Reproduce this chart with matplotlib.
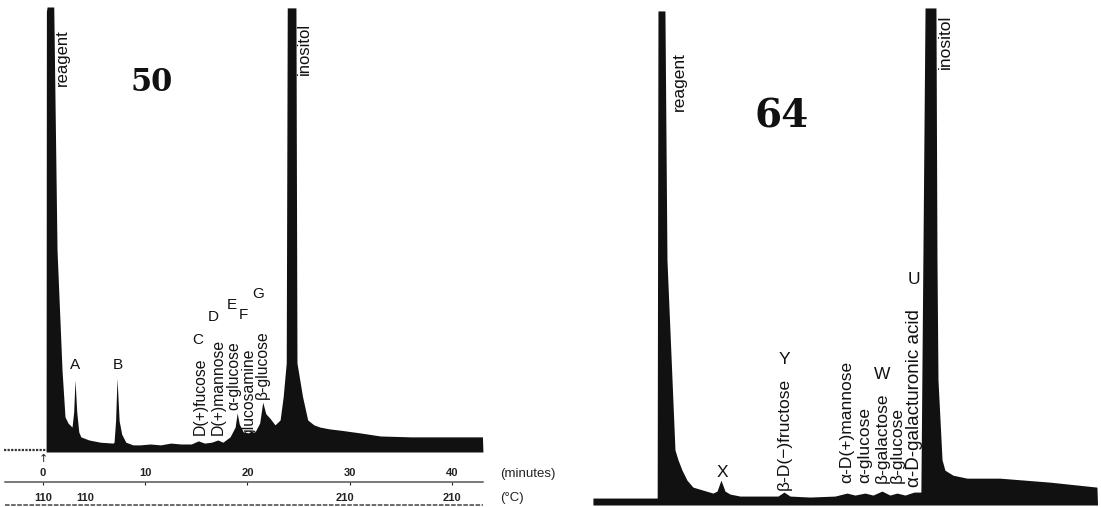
import matplotlib
matplotlib.use("Agg")
import matplotlib.pyplot as plt

plt.rcParams["font.family"] = ["Liberation Sans", "DejaVu Sans"]

# chromatogram 50 : retention time (minutes) vs recorder response (% full scale)
t_50 = [0.30, 0.33, 0.40, 1.05, 1.37, 1.86, 2.15, 2.45, 2.84, 3.00,
        3.13, 3.30, 3.50, 3.70, 4.50, 5.60, 6.85, 6.95, 7.10, 7.24,
        7.45, 7.70, 8.10, 8.80, 9.50, 10.5, 11.5, 12.5, 13.5, 14.5,
        15.2, 15.8, 16.5, 17.1, 17.6, 18.3, 18.8, 19.0, 19.2, 19.6,
        20.1, 20.4, 20.7, 21.2, 21.5, 21.8, 22.2, 22.7, 23.2, 23.5,
        23.8, 23.9, 24.75, 24.85, 25.4, 25.9, 26.5, 27.1, 28.0, 29.1,
        31.0, 33.0, 36.0, 40.0, 43.0, 43.05]
y_50 = [0, 99.0, 100, 100, 45.4, 18.4, 7.9, 6.5, 5.6, 9.0,
        16.2, 9.0, 4.5, 3.4, 2.7, 2.2, 2.0, 2.2, 7.0, 16.6,
        7.0, 4.0, 2.2, 1.6, 1.6, 1.8, 1.6, 2.0, 1.8, 1.8,
        2.5, 2.0, 2.2, 2.7, 2.2, 3.4, 5.6, 8.8, 6.3, 4.5,
        4.3, 4.7, 4.3, 6.5, 11.2, 8.6, 7.6, 6.1, 7.2, 12.4,
        20.0, 99.8, 99.8, 20.0, 12.4, 7.2, 6.1, 5.6, 5.2, 4.9,
        4.3, 3.6, 3.4, 3.4, 3.4, 0]

# chromatogram 64
t_64 = [-5.16, 0.55, 0.62, 1.24, 1.42, 1.87, 2.13, 2.40, 2.76, 3.20,
        3.73, 4.62, 5.51, 5.87, 6.22, 6.58, 7.02, 7.91, 10.31, 11.29,
        11.82, 12.36, 14.13, 16.36, 17.42, 18.13, 19.02, 19.73, 20.53, 21.24,
        21.87, 22.58, 23.38, 23.99, 24.36, 25.33, 25.42, 25.51, 25.87, 26.13,
        26.84, 28.09, 31.02, 35.47, 39.64, 39.69]
y_64 = [1.4, 1.4, 99.4, 99.4, 49.3, 25.2, 11.1, 9.1, 7.0, 5.0,
        3.6, 3.0, 2.4, 2.8, 5.0, 2.8, 2.2, 1.8, 1.8, 1.8,
        2.6, 1.8, 1.6, 1.8, 2.4, 2.0, 2.4, 2.0, 2.8, 2.0,
        2.4, 2.0, 2.6, 2.6, 100, 100, 49.3, 25.2, 9.1, 7.0,
        6.0, 5.4, 5.4, 4.6, 3.6, 0]

# scales under chromatogram 50
minute_ticks = [0, 10, 20, 30, 40]
temp_times = [0, 4.1, 29.5, 40]
temp_labels = ["110", "110", "210", "210"]

# peak labels
names_50 = ["D(+)fucose", "D(+)mannose", "α-glucose", "glucosamine", "β-glucose"]
names_50_t = [15.36, 17.13, 18.70, 20.15, 21.43]
names_50_y = [3.8, 3.8, 9.4, 3.4, 11.9]
letters_50 = ["A", "B", "C", "D", "E", "F", "G"]
letters_50_t = [3.13, 7.34, 15.17, 16.63, 18.49, 19.57, 21.04]
letters_50_y = [19.6, 19.6, 25.2, 30.3, 33.0, 30.8, 35.5]

names_64 = ["β-D(−)fructose", "α-D(+)mannose", "α-glucose", "β-galactose",
            "β-glucose", "α-D-galacturonic acid"]
names_64_t = [11.82, 17.42, 19.02, 20.53, 21.87, 23.38]
names_64_y = [3.0, 4.4, 4.4, 4.4, 4.4, 3.6]
letters_64 = ["X", "Y", "W", "U"]
letters_64_t = [6.31, 11.82, 20.53, 23.38]
letters_64_y = [6.6, 29.2, 26.2, 45.3]

ink = "#111111"

fig = plt.figure(figsize=(11.01, 5.07), dpi=100)
ax1 = fig.add_axes([0, 0, 560 / 1101, 1])
ax2 = fig.add_axes([580 / 1101, 0, 521 / 1101, 1])

# ---- left chromatogram (50)
ax1.fill_between(t_50, y_50, 0, color=ink, lw=0)
ax1.plot([-3.8, 0.30], [0.4, 0.4], color="#333333", lw=1.6, ls=(0, (1, 0.6)))
ax1.set_xlim(-4.21, 50.59)
ax1.set_ylim(-12.36, 101.57)
for s in ["left", "right", "bottom"]:
    ax1.spines[s].set_visible(False)
ax1.spines["top"].set_position(("data", -6.74))
ax1.spines["top"].set_bounds(-3.7, 43.1)
ax1.spines["top"].set_color("#555555")
ax1.spines["top"].set_linewidth(1.1)
ax1.xaxis.set_ticks_position("top")
ax1.set_xticks(minute_ticks)
ax1.tick_params(axis="x", direction="in", length=2, pad=3, labelsize=8, colors="#222222")
plt.setp(ax1.get_xticklabels(), fontweight="bold")
ax1.set_yticks([])
ax1.text(44.7, -4.9, "(minutes)", fontsize=9.5, va="center", ha="left", color="#222222")
for tt, lab in zip(temp_times, temp_labels):
    ax1.text(tt, -10.3, lab, fontsize=8, fontweight="bold", ha="center", va="center", color="#222222")
ax1.text(44.7, -10.3, "(°C)", fontsize=9.5, va="center", ha="left", color="#222222")
ax1.plot([-3.7, 43.1], [-11.9, -11.9], color="#444444", lw=1.1, ls=(0, (3, 1)))
ax1.text(0, -1.6, "↑", fontsize=8, ha="center", va="center", color="#222222",
         family=["DejaVu Sans"])

ax1.text(1.9, 95.1, "reagent", rotation=90, fontsize=12, ha="center", va="top", color=ink)
ax1.text(25.6, 96.4, "inositol", rotation=90, fontsize=12, ha="center", va="top", color=ink)
ax1.text(10.67, 83.1, "50", fontsize=22, fontweight="bold", family="DejaVu Serif",
         ha="center", va="center", color=ink)
for name, tt, yy in zip(names_50, names_50_t, names_50_y):
    ax1.text(tt, yy, name, rotation=90, fontsize=11.3, ha="center", va="bottom", color=ink)
for name, tt, yy in zip(letters_50, letters_50_t, letters_50_y):
    ax1.text(tt, yy, name, fontsize=11, ha="center", va="center", color=ink)

# ---- right chromatogram (64)
ax2.fill_between(t_64, y_64, 0, color=ink, lw=0)
ax2.set_xlim(-6.31, 40.0)
ax2.set_ylim(-0.4, 101.6)
ax2.axis("off")
ax2.text(2.49, 91.1, "reagent", rotation=90, fontsize=12.5, ha="center", va="top", color=ink)
ax2.text(26.2, 98.6, "inositol", rotation=90, fontsize=12.5, ha="center", va="top", color=ink)
ax2.text(11.64, 78.1, "64", fontsize=28, fontweight="bold", family="DejaVu Serif",
         ha="center", va="center", color=ink)
for name, tt, yy in zip(names_64, names_64_t, names_64_y):
    size = 13.6 if "acid" in name else 12.5
    ax2.text(tt, yy, name, rotation=90, fontsize=size, ha="center", va="bottom", color=ink)
for name, tt, yy in zip(letters_64, letters_64_t, letters_64_y):
    ax2.text(tt, yy, name, fontsize=12.5, ha="center", va="center", color=ink)

fig.savefig("out.png", dpi=100)
